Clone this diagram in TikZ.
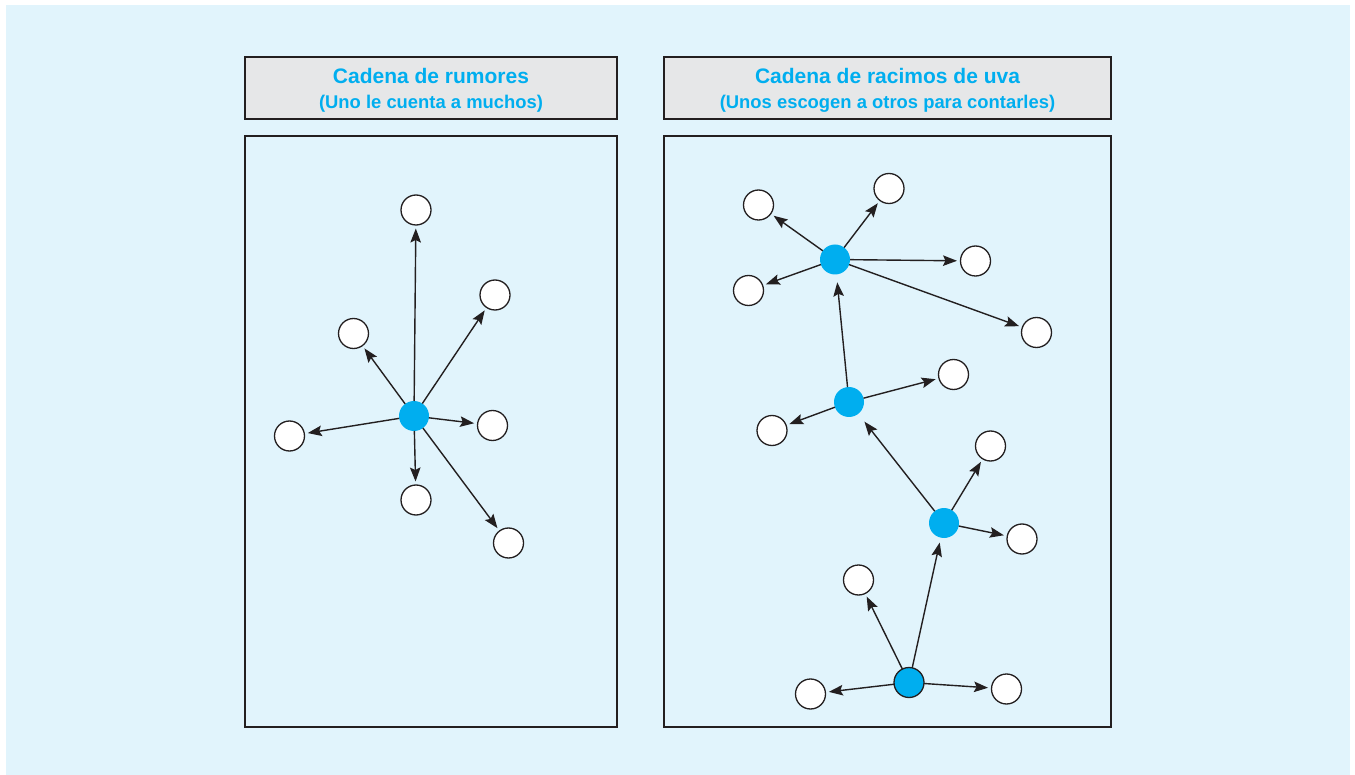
\documentclass[tikz,border=0pt]{standalone}
\usepackage{fontspec}
\setmainfont{Liberation Sans}
\usetikzlibrary{arrows.meta}
\definecolor{bgblue}{HTML}{E1F4FC}
\definecolor{hdrgray}{HTML}{E6E7E8}
\definecolor{titlecyan}{HTML}{00AEEF}
\definecolor{ink}{HTML}{231F20}
\tikzset{
  panel/.style={draw=ink, line width=1.2pt, fill=bgblue},
  header/.style={draw=ink, line width=1.6pt, fill=hdrgray},
  title/.style={text=titlecyan, font=\fontsize{21}{25}\selectfont\bfseries, anchor=base, inner sep=0pt},
  subtitle/.style={text=titlecyan, font=\fontsize{18.4}{22}\selectfont\bfseries, anchor=base, inner sep=0pt},
  leaf/.style={circle, draw=ink, line width=1.3pt, fill=white, minimum size=30pt, inner sep=0pt, outer sep=0pt},
  hub/.style={circle, fill=titlecyan, minimum size=30pt, inner sep=0pt, outer sep=0pt},
  hubb/.style={circle, fill=titlecyan, draw=ink, line width=1.3pt, minimum size=30pt, inner sep=0pt, outer sep=0pt},
  link/.style={draw=ink, line width=1.4pt, -{Stealth[length=14pt,width=10.5pt,inset=2.5pt]}, shorten >=3.5pt}
}
\begin{document}
\begin{tikzpicture}[x=1pt,y=-1pt]
\useasboundingbox (0,0) rectangle (1355,775);
\fill[white] (0,0) rectangle (1355,775);
\fill[bgblue] (6,5) rectangle (1350,775);

% headers
\draw[header] (245,57) rectangle (617,119);
\draw[header] (664,57) rectangle (1111,119);
\node[title] (t1) at (431,84) {Cadena de rumores};
\node[subtitle] (s1) at (431,109) {(Uno le cuenta a muchos)};
\node[title] (t2) at (887.5,84) {Cadena de racimos de uva};
\node[subtitle] (s2) at (887.5,109) {(Unos escogen a otros para contarles)};

% panels
\draw[panel] (245,136) rectangle (617,727);
\draw[panel] (664,136) rectangle (1111,727);

% left: rumour chain
\node[hub] (c) at (414,416) {};
\node[leaf] (l1) at (416,210) {};
\node[leaf] (l2) at (495,295) {};
\node[leaf] (l3) at (353.5,333.5) {};
\node[leaf] (l4) at (289.5,436) {};
\node[leaf] (l5) at (492.5,425.5) {};
\node[leaf] (l6) at (416,500) {};
\node[leaf] (l7) at (508.5,543) {};
\foreach \n in {l1,l2,l3,l4,l5,l6,l7} \draw[link] (c) -- (\n);

% right: grapevine chain
\node[hub] (b1) at (835,259.5) {};
\node[hub] (b2) at (849,402) {};
\node[hub] (b3) at (944,523) {};
\node[hubb] (b4) at (909,682.5) {};

\node[leaf] (r1) at (758.5,205) {};
\node[leaf] (r2) at (889,188.5) {};
\node[leaf] (r3) at (975.5,261) {};
\node[leaf] (r4) at (748.5,290.5) {};
\node[leaf] (r5) at (1036.5,332.5) {};
\node[leaf] (r6) at (953.5,374.5) {};
\node[leaf] (r7) at (772,430.5) {};
\node[leaf] (r8) at (990.5,446) {};
\node[leaf] (r9) at (1022,539) {};
\node[leaf] (r10) at (858.5,580) {};
\node[leaf] (r11) at (810.5,694) {};
\node[leaf] (r12) at (1006.5,689) {};

\foreach \n in {r1,r2,r3,r4,r5} \draw[link] (b1) -- (\n);
\foreach \n in {r6,r7} \draw[link] (b2) -- (\n);
\foreach \n in {r8,r9} \draw[link] (b3) -- (\n);
\foreach \n in {r10,r11,r12} \draw[link] (b4) -- (\n);

\draw[link, shorten >=8pt] (b2) -- (b1);
\draw[link, shorten >=10pt] (b3) -- (b2);
\draw[link, shorten >=5pt] (b4) -- (b3);
\end{tikzpicture}
\end{document}
